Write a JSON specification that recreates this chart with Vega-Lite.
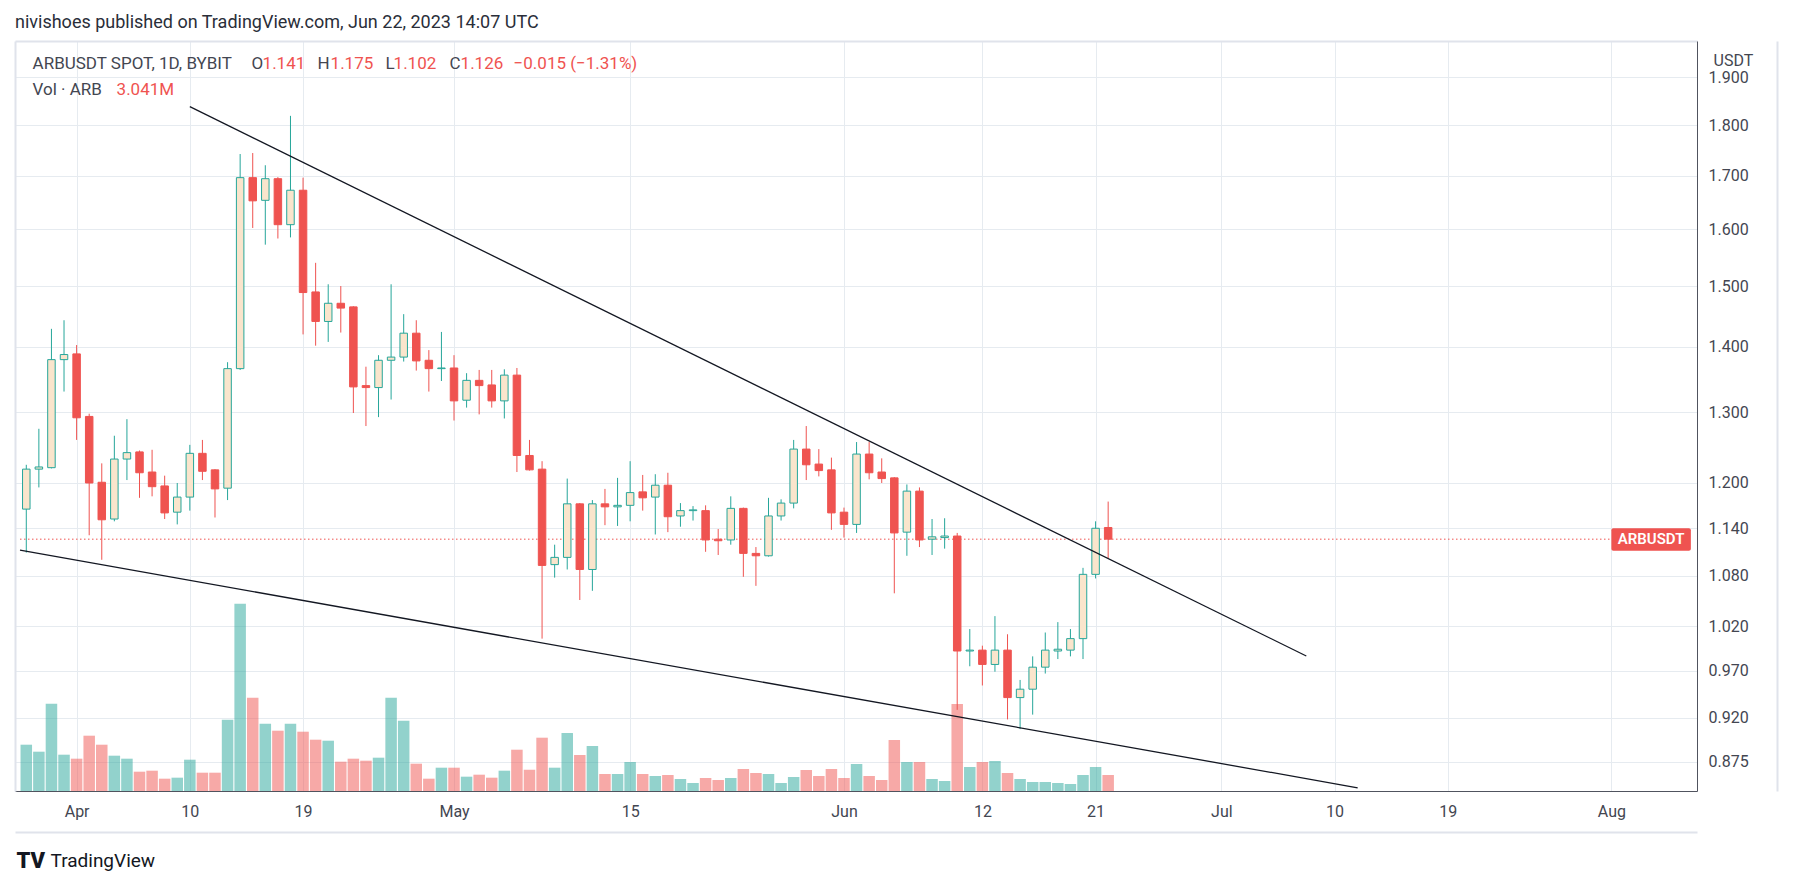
{
  "$schema": "https://vega.github.io/schema/vega-lite/v6.json",
  "width": 1682,
  "height": 750,
  "autosize": {"type": "none"},
  "padding": {"left": 15, "top": 41, "right": 96, "bottom": 95},
  "background": "#ffffff",
  "config": {"view": {"stroke": null}, "font": "Roboto"},
  "title": {
    "text": "nivishoes published on TradingView.com, Jun 22, 2023 14:07 UTC",
    "anchor": "start",
    "frame": "group",
    "offset": 9,
    "fontSize": 18,
    "fontWeight": "normal",
    "font": "Roboto",
    "color": "#2a2e39"
  },
  "datasets": {
    "candles": [
      {"date": "2023-03-28", "open": 1.165, "high": 1.225, "low": 1.109, "close": 1.219, "volume": 8.80},
      {"date": "2023-03-29", "open": 1.219, "high": 1.276, "low": 1.194, "close": 1.222, "volume": 7.47},
      {"date": "2023-03-30", "open": 1.221, "high": 1.429, "low": 1.220, "close": 1.380, "volume": 16.59},
      {"date": "2023-03-31", "open": 1.380, "high": 1.443, "low": 1.331, "close": 1.388, "volume": 6.90},
      {"date": "2023-04-01", "open": 1.389, "high": 1.403, "low": 1.260, "close": 1.292, "volume": 6.14},
      {"date": "2023-04-02", "open": 1.294, "high": 1.298, "low": 1.131, "close": 1.200, "volume": 10.51},
      {"date": "2023-04-03", "open": 1.201, "high": 1.227, "low": 1.100, "close": 1.151, "volume": 8.80},
      {"date": "2023-04-04", "open": 1.152, "high": 1.266, "low": 1.149, "close": 1.233, "volume": 6.71},
      {"date": "2023-04-05", "open": 1.233, "high": 1.290, "low": 1.204, "close": 1.242, "volume": 6.14},
      {"date": "2023-04-06", "open": 1.243, "high": 1.245, "low": 1.180, "close": 1.214, "volume": 3.67},
      {"date": "2023-04-07", "open": 1.215, "high": 1.246, "low": 1.182, "close": 1.195, "volume": 3.86},
      {"date": "2023-04-08", "open": 1.196, "high": 1.210, "low": 1.152, "close": 1.160, "volume": 2.34},
      {"date": "2023-04-09", "open": 1.161, "high": 1.200, "low": 1.145, "close": 1.181, "volume": 2.53},
      {"date": "2023-04-10", "open": 1.181, "high": 1.253, "low": 1.163, "close": 1.241, "volume": 5.95},
      {"date": "2023-04-11", "open": 1.241, "high": 1.260, "low": 1.204, "close": 1.216, "volume": 3.48},
      {"date": "2023-04-12", "open": 1.218, "high": 1.219, "low": 1.154, "close": 1.192, "volume": 3.48},
      {"date": "2023-04-13", "open": 1.193, "high": 1.376, "low": 1.177, "close": 1.366, "volume": 13.55},
      {"date": "2023-04-14", "open": 1.366, "high": 1.742, "low": 1.364, "close": 1.696, "volume": 35.60},
      {"date": "2023-04-15", "open": 1.696, "high": 1.744, "low": 1.602, "close": 1.652, "volume": 17.73},
      {"date": "2023-04-16", "open": 1.653, "high": 1.720, "low": 1.572, "close": 1.694, "volume": 12.79},
      {"date": "2023-04-17", "open": 1.694, "high": 1.697, "low": 1.583, "close": 1.608, "volume": 11.46},
      {"date": "2023-04-18", "open": 1.608, "high": 1.819, "low": 1.585, "close": 1.672, "volume": 12.79},
      {"date": "2023-04-19", "open": 1.672, "high": 1.696, "low": 1.420, "close": 1.489, "volume": 11.27},
      {"date": "2023-04-20", "open": 1.490, "high": 1.540, "low": 1.402, "close": 1.441, "volume": 9.75},
      {"date": "2023-04-21", "open": 1.441, "high": 1.503, "low": 1.408, "close": 1.471, "volume": 9.56},
      {"date": "2023-04-22", "open": 1.471, "high": 1.500, "low": 1.423, "close": 1.463, "volume": 5.57},
      {"date": "2023-04-23", "open": 1.465, "high": 1.466, "low": 1.299, "close": 1.338, "volume": 6.14},
      {"date": "2023-04-24", "open": 1.340, "high": 1.369, "low": 1.280, "close": 1.337, "volume": 5.76},
      {"date": "2023-04-25", "open": 1.337, "high": 1.387, "low": 1.293, "close": 1.379, "volume": 6.33},
      {"date": "2023-04-26", "open": 1.379, "high": 1.503, "low": 1.319, "close": 1.384, "volume": 17.73},
      {"date": "2023-04-27", "open": 1.384, "high": 1.453, "low": 1.377, "close": 1.422, "volume": 13.36},
      {"date": "2023-04-28", "open": 1.422, "high": 1.443, "low": 1.363, "close": 1.378, "volume": 5.19},
      {"date": "2023-04-29", "open": 1.379, "high": 1.395, "low": 1.331, "close": 1.366, "volume": 2.34},
      {"date": "2023-04-30", "open": 1.366, "high": 1.424, "low": 1.347, "close": 1.367, "volume": 4.43},
      {"date": "2023-05-01", "open": 1.367, "high": 1.387, "low": 1.288, "close": 1.317, "volume": 4.43},
      {"date": "2023-05-02", "open": 1.318, "high": 1.359, "low": 1.307, "close": 1.348, "volume": 2.72},
      {"date": "2023-05-03", "open": 1.348, "high": 1.364, "low": 1.297, "close": 1.340, "volume": 3.10},
      {"date": "2023-05-04", "open": 1.341, "high": 1.364, "low": 1.307, "close": 1.317, "volume": 2.53},
      {"date": "2023-05-05", "open": 1.317, "high": 1.365, "low": 1.291, "close": 1.356, "volume": 3.86},
      {"date": "2023-05-06", "open": 1.356, "high": 1.367, "low": 1.215, "close": 1.238, "volume": 7.85},
      {"date": "2023-05-07", "open": 1.238, "high": 1.260, "low": 1.217, "close": 1.218, "volume": 4.05},
      {"date": "2023-05-08", "open": 1.219, "high": 1.230, "low": 1.006, "close": 1.093, "volume": 10.13},
      {"date": "2023-05-09", "open": 1.094, "high": 1.119, "low": 1.078, "close": 1.103, "volume": 4.43},
      {"date": "2023-05-10", "open": 1.103, "high": 1.206, "low": 1.088, "close": 1.172, "volume": 11.02},
      {"date": "2023-05-11", "open": 1.172, "high": 1.173, "low": 1.051, "close": 1.088, "volume": 6.84},
      {"date": "2023-05-12", "open": 1.088, "high": 1.177, "low": 1.062, "close": 1.172, "volume": 8.55},
      {"date": "2023-05-13", "open": 1.172, "high": 1.192, "low": 1.144, "close": 1.168, "volume": 3.23},
      {"date": "2023-05-14", "open": 1.168, "high": 1.207, "low": 1.143, "close": 1.170, "volume": 3.23},
      {"date": "2023-05-15", "open": 1.170, "high": 1.230, "low": 1.149, "close": 1.187, "volume": 5.51},
      {"date": "2023-05-16", "open": 1.188, "high": 1.211, "low": 1.163, "close": 1.180, "volume": 3.23},
      {"date": "2023-05-17", "open": 1.181, "high": 1.212, "low": 1.132, "close": 1.197, "volume": 2.85},
      {"date": "2023-05-18", "open": 1.197, "high": 1.214, "low": 1.135, "close": 1.155, "volume": 3.04},
      {"date": "2023-05-19", "open": 1.156, "high": 1.173, "low": 1.142, "close": 1.163, "volume": 2.28},
      {"date": "2023-05-20", "open": 1.163, "high": 1.169, "low": 1.150, "close": 1.164, "volume": 1.52},
      {"date": "2023-05-21", "open": 1.163, "high": 1.170, "low": 1.110, "close": 1.125, "volume": 2.47},
      {"date": "2023-05-22", "open": 1.126, "high": 1.139, "low": 1.106, "close": 1.124, "volume": 2.09},
      {"date": "2023-05-23", "open": 1.125, "high": 1.182, "low": 1.119, "close": 1.166, "volume": 2.47},
      {"date": "2023-05-24", "open": 1.166, "high": 1.167, "low": 1.079, "close": 1.108, "volume": 4.18},
      {"date": "2023-05-25", "open": 1.108, "high": 1.116, "low": 1.068, "close": 1.105, "volume": 3.42},
      {"date": "2023-05-26", "open": 1.105, "high": 1.180, "low": 1.104, "close": 1.156, "volume": 3.23},
      {"date": "2023-05-27", "open": 1.156, "high": 1.178, "low": 1.150, "close": 1.173, "volume": 1.52},
      {"date": "2023-05-28", "open": 1.173, "high": 1.260, "low": 1.166, "close": 1.247, "volume": 2.66},
      {"date": "2023-05-29", "open": 1.247, "high": 1.280, "low": 1.204, "close": 1.225, "volume": 3.99},
      {"date": "2023-05-30", "open": 1.226, "high": 1.247, "low": 1.209, "close": 1.217, "volume": 2.85},
      {"date": "2023-05-31", "open": 1.218, "high": 1.235, "low": 1.138, "close": 1.160, "volume": 4.18},
      {"date": "2023-06-01", "open": 1.161, "high": 1.167, "low": 1.128, "close": 1.145, "volume": 2.47},
      {"date": "2023-06-02", "open": 1.145, "high": 1.257, "low": 1.134, "close": 1.240, "volume": 5.13},
      {"date": "2023-06-03", "open": 1.240, "high": 1.257, "low": 1.205, "close": 1.214, "volume": 2.85},
      {"date": "2023-06-04", "open": 1.215, "high": 1.234, "low": 1.200, "close": 1.206, "volume": 2.09},
      {"date": "2023-06-05", "open": 1.207, "high": 1.208, "low": 1.059, "close": 1.134, "volume": 9.69},
      {"date": "2023-06-06", "open": 1.135, "high": 1.198, "low": 1.105, "close": 1.189, "volume": 5.51},
      {"date": "2023-06-07", "open": 1.189, "high": 1.194, "low": 1.116, "close": 1.125, "volume": 5.51},
      {"date": "2023-06-08", "open": 1.126, "high": 1.152, "low": 1.106, "close": 1.129, "volume": 2.28},
      {"date": "2023-06-09", "open": 1.128, "high": 1.153, "low": 1.114, "close": 1.130, "volume": 1.90},
      {"date": "2023-06-10", "open": 1.130, "high": 1.134, "low": 0.928, "close": 0.992, "volume": 16.53},
      {"date": "2023-06-11", "open": 0.992, "high": 1.017, "low": 0.975, "close": 0.993, "volume": 4.56},
      {"date": "2023-06-12", "open": 0.993, "high": 0.998, "low": 0.954, "close": 0.977, "volume": 5.51},
      {"date": "2023-06-13", "open": 0.977, "high": 1.032, "low": 0.969, "close": 0.993, "volume": 5.70},
      {"date": "2023-06-14", "open": 0.993, "high": 1.011, "low": 0.918, "close": 0.941, "volume": 3.42},
      {"date": "2023-06-15", "open": 0.941, "high": 0.960, "low": 0.908, "close": 0.950, "volume": 2.28},
      {"date": "2023-06-16", "open": 0.950, "high": 0.986, "low": 0.923, "close": 0.974, "volume": 1.71},
      {"date": "2023-06-17", "open": 0.974, "high": 1.013, "low": 0.967, "close": 0.993, "volume": 1.71},
      {"date": "2023-06-18", "open": 0.992, "high": 1.025, "low": 0.983, "close": 0.994, "volume": 1.52},
      {"date": "2023-06-19", "open": 0.993, "high": 1.017, "low": 0.986, "close": 1.006, "volume": 1.33},
      {"date": "2023-06-20", "open": 1.006, "high": 1.090, "low": 0.983, "close": 1.082, "volume": 3.04},
      {"date": "2023-06-21", "open": 1.082, "high": 1.149, "low": 1.077, "close": 1.140, "volume": 4.56},
      {"date": "2023-06-22", "open": 1.141, "high": 1.175, "low": 1.102, "close": 1.126, "volume": 3.041}
    ]
  },
  "data": {"name": "candles"},
  "resolve": {"scale": {"y": "independent"}, "axis": {"x": "independent"}},
  "layer": [
    {
      "mark": {"type": "bar", "width": 11.5, "opacity": 0.5},
      "encoding": {
        "x": {
          "field": "date",
          "type": "temporal",
          "scale": {
            "type": "utc",
            "nice": false,
            "domain": [
              {"year": 2023, "month": 3, "date": 27, "hours": 12, "utc": true},
              {"year": 2023, "month": 8, "date": 7, "hours": 9, "minutes": 50, "utc": true}
            ]
          },
          "axis": {
            "orient": "top",
            "labels": false,
            "ticks": false,
            "grid": false,
            "domainColor": "#e0e3eb",
            "domainWidth": 2,
            "title": "TV",
            "titleX": 1,
            "titleY": 819,
            "titleAlign": "left",
            "titleBaseline": "middle",
            "titleFontSize": 22,
            "titleFontWeight": 900,
            "titleColor": "#131722"
          }
        },
        "y": {
          "field": "volume",
          "type": "quantitative",
          "scale": {"domain": [0, 142.55], "nice": false},
          "axis": {
            "orient": "left",
            "labels": false,
            "ticks": false,
            "grid": false,
            "domainColor": "#e0e3eb",
            "domainWidth": 2,
            "title": null
          }
        },
        "color": {
          "condition": {"test": "datum.close >= datum.open", "value": "#26a69a"},
          "value": "#ef5350"
        }
      }
    },
    {
      "data": {"values": [{}]},
      "mark": {"type": "rule", "color": "#ef5350", "strokeWidth": 1, "strokeDash": [1.5, 2.5]},
      "encoding": {
        "x": {
          "datum": {"year": 2023, "month": 3, "date": 27, "hours": 12, "utc": true},
          "type": "temporal",
          "axis": {
            "orient": "bottom",
            "offset": 41,
            "labels": false,
            "ticks": false,
            "grid": false,
            "domainColor": "#e0e3eb",
            "domainWidth": 2,
            "title": null
          }
        },
        "x2": {"datum": {"year": 2023, "month": 8, "date": 7, "hours": 9, "minutes": 50, "utc": true}},
        "y": {
          "datum": 1.126,
          "type": "quantitative",
          "scale": {"type": "log", "domain": [0.8465, 1.98], "nice": false},
          "axis": {
            "orient": "right",
            "offset": 80,
            "labels": false,
            "ticks": false,
            "grid": false,
            "domainColor": "#e0e3eb",
            "domainWidth": 2,
            "title": null
          }
        }
      }
    },
    {
      "layer": [
        {
          "mark": {"type": "rule", "strokeWidth": 1},
          "encoding": {
            "x": {
              "field": "date",
              "type": "temporal",
              "axis": {
                "orient": "bottom",
                "values": [
                  {"year": 2023, "month": 4, "date": 1, "utc": true},
                  {"year": 2023, "month": 4, "date": 10, "utc": true},
                  {"year": 2023, "month": 4, "date": 19, "utc": true},
                  {"year": 2023, "month": 5, "date": 1, "utc": true},
                  {"year": 2023, "month": 5, "date": 15, "utc": true},
                  {"year": 2023, "month": 6, "date": 1, "utc": true},
                  {"year": 2023, "month": 6, "date": 12, "utc": true},
                  {"year": 2023, "month": 6, "date": 21, "utc": true},
                  {"year": 2023, "month": 7, "date": 1, "utc": true},
                  {"year": 2023, "month": 7, "date": 10, "utc": true},
                  {"year": 2023, "month": 7, "date": 19, "utc": true},
                  {"year": 2023, "month": 8, "date": 1, "utc": true}
                ],
                "labelExpr": "utcdate(datum.value) == 1 ? utcFormat(datum.value, '%b') : '' + utcdate(datum.value)",
                "grid": true,
                "gridColor": "#e6ebf0",
                "gridWidth": 1,
                "ticks": false,
                "tickSize": 0,
                "labelPadding": 20,
                "labelBaseline": "middle",
                "labelFontSize": 16,
                "labelColor": "#434651",
                "labelFlush": false,
                "labelOverlap": false,
                "domainColor": "#50535e",
                "domainWidth": 1,
                "title": "TradingView",
                "titleX": 35,
                "titleY": 69,
                "titleAlign": "left",
                "titleBaseline": "middle",
                "titleFontSize": 19,
                "titleFontWeight": "normal",
                "titleColor": "#131722"
              }
            },
            "y": {
              "field": "low",
              "type": "quantitative",
              "scale": {"type": "log", "domain": [0.8465, 1.98], "nice": false},
              "axis": {
                "orient": "right",
                "values": [0.875, 0.92, 0.97, 1.02, 1.08, 1.14, 1.2, 1.3, 1.4, 1.5, 1.6, 1.7, 1.8, 1.9],
                "format": ".3f",
                "grid": true,
                "gridColor": "#e6ebf0",
                "gridWidth": 1,
                "ticks": false,
                "tickSize": 0,
                "labelPadding": 11,
                "labelAlign": "left",
                "labelBaseline": "middle",
                "labelFontSize": 16,
                "labelColor": "#434651",
                "labelFlush": false,
                "labelOverlap": false,
                "domainColor": "#50535e",
                "domainWidth": 1,
                "title": "USDT",
                "titleAngle": 0,
                "titleX": 16,
                "titleY": 19,
                "titleAlign": "left",
                "titleBaseline": "middle",
                "titleFontSize": 16,
                "titleFontWeight": "normal",
                "titleColor": "#434651"
              }
            },
            "y2": {"field": "high"},
            "color": {
              "condition": {"test": "datum.close >= datum.open", "value": "#26a69a"},
              "value": "#ef5350"
            }
          }
        },
        {
          "mark": {"type": "bar", "width": 7.5, "strokeWidth": 1},
          "encoding": {
            "x": {"field": "date", "type": "temporal"},
            "y": {"field": "open", "type": "quantitative"},
            "y2": {"field": "close"},
            "fill": {
              "condition": {"test": "datum.close >= datum.open", "value": "#fae5cc"},
              "value": "#ef5350"
            },
            "stroke": {
              "condition": {"test": "datum.close >= datum.open", "value": "#26a69a"},
              "value": "#ef5350"
            }
          }
        },
        {
          "data": {
            "values": [
              {"trend": "upper", "date": "2023-04-10T00:00:00Z", "price": 1.838},
              {"trend": "upper", "date": "2023-07-07T18:00:00Z", "price": 0.9864},
              {"trend": "lower", "date": "2023-03-27T12:00:00Z", "price": 1.112},
              {"trend": "lower", "date": "2023-07-11T20:00:00Z", "price": 0.8496}
            ]
          },
          "mark": {"type": "line", "color": "#131722", "strokeWidth": 1.3},
          "encoding": {
            "x": {"field": "date", "type": "temporal"},
            "y": {"field": "price", "type": "quantitative"},
            "detail": {"field": "trend"}
          }
        },
        {
          "data": {"values": [{}]},
          "mark": {"type": "rect", "color": "#ef5350", "cornerRadius": 2},
          "encoding": {
            "x": {"datum": {"year": 2023, "month": 8, "date": 1, "utc": true}, "type": "temporal"},
            "x2": {"datum": {"year": 2023, "month": 8, "date": 7, "hours": 7, "minutes": 40, "utc": true}},
            "y": {"datum": 1.1113, "type": "quantitative"},
            "y2": {"datum": 1.140}
          }
        },
        {
          "data": {"values": [{}]},
          "mark": {"type": "text", "text": "ARBUSDT", "color": "#ffffff", "fontSize": 15, "fontWeight": 600, "align": "center", "baseline": "middle"},
          "encoding": {
            "x": {"datum": {"year": 2023, "month": 8, "date": 4, "hours": 3, "minutes": 50, "utc": true}, "type": "temporal"},
            "y": {"datum": 1.1256, "type": "quantitative"}
          }
        },
        {
          "data": {"values": [{}]},
          "encoding": {
            "x": {"datum": {"year": 2023, "month": 3, "date": 28, "hours": 12, "utc": true}, "type": "temporal"},
            "y": {"datum": 1.928, "type": "quantitative"}
          },
          "layer": [
            {"mark": {"type": "text", "text": "ARBUSDT SPOT, 1D, BYBIT", "align": "left", "baseline": "middle", "fontSize": 17, "color": "#434651"}},
            {"mark": {"type": "text", "text": "O", "dx": 219, "align": "left", "baseline": "middle", "fontSize": 17, "color": "#434651"}},
            {"mark": {"type": "text", "text": "1.141", "dx": 230, "align": "left", "baseline": "middle", "fontSize": 17, "color": "#ef5350"}},
            {"mark": {"type": "text", "text": "H", "dx": 285, "align": "left", "baseline": "middle", "fontSize": 17, "color": "#434651"}},
            {"mark": {"type": "text", "text": "1.175", "dx": 298, "align": "left", "baseline": "middle", "fontSize": 17, "color": "#ef5350"}},
            {"mark": {"type": "text", "text": "L", "dx": 353, "align": "left", "baseline": "middle", "fontSize": 17, "color": "#434651"}},
            {"mark": {"type": "text", "text": "1.102", "dx": 361, "align": "left", "baseline": "middle", "fontSize": 17, "color": "#ef5350"}},
            {"mark": {"type": "text", "text": "C", "dx": 417, "align": "left", "baseline": "middle", "fontSize": 17, "color": "#434651"}},
            {"mark": {"type": "text", "text": "1.126", "dx": 428, "align": "left", "baseline": "middle", "fontSize": 17, "color": "#ef5350"}},
            {"mark": {"type": "text", "text": "−0.015 (−1.31%)", "dx": 481, "align": "left", "baseline": "middle", "fontSize": 17, "color": "#ef5350"}}
          ]
        },
        {
          "data": {"values": [{}]},
          "encoding": {
            "x": {"datum": {"year": 2023, "month": 3, "date": 28, "hours": 12, "utc": true}, "type": "temporal"},
            "y": {"datum": 1.873, "type": "quantitative"}
          },
          "layer": [
            {"mark": {"type": "text", "text": "Vol · ARB", "align": "left", "baseline": "middle", "fontSize": 17, "color": "#434651"}},
            {"mark": {"type": "text", "text": "3.041M", "dx": 84, "align": "left", "baseline": "middle", "fontSize": 17, "color": "#ef5350"}}
          ]
        }
      ]
    }
  ]
}
